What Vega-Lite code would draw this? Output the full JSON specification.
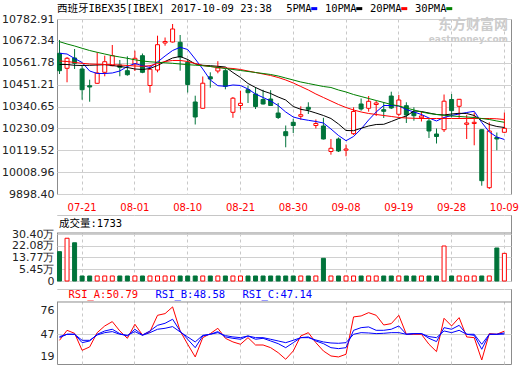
{
 "$schema": "https://vega.github.io/schema/vega-lite/v6.json",
 "background": "#ffffff",
 "padding": {"left": 0, "top": 2, "right": 0, "bottom": 0},
 "spacing": 1,
 "datasets": {"k": [
  {"d":"07-18","o":10609.6,"h":10676.8,"l":10504.9,"c":10521.6,"v":17.9,"ma5":10609.6,"ma10":10553.0,"ma20":10570.7,"ma30":10668.2,"ra":39.4,"rb":42.7,"rc":44.0},
  {"d":"07-19","o":10533.7,"h":10590.9,"l":10463.0,"c":10584.3,"v":27.4,"ma5":10606.0,"ma10":10553.0,"ma20":10568.1,"ma30":10656.6,"ra":51.8,"rb":46.9,"rc":46.9},
  {"d":"07-20","o":10585.8,"h":10631.3,"l":10530.2,"c":10559.0,"v":24.2,"ma5":10583.3,"ma10":10548.9,"ma20":10563.1,"ma30":10646.5,"ra":48.1,"rb":46.9,"rc":46.9},
  {"d":"07-21","o":10530.2,"h":10546.9,"l":10375.0,"c":10425.6,"v":0.67,"ma5":10563.1,"ma10":10547.9,"ma20":10559.0,"ma30":10634.8,"ra":27.0,"rb":36.5,"rc":39.4},
  {"d":"07-24","o":10445.8,"h":10476.1,"l":10364.9,"c":10439.2,"v":0.67,"ma5":10520.1,"ma10":10548.9,"ma20":10555.5,"ma30":10623.7,"ra":31.2,"rb":38.6,"rc":39.4},
  {"d":"07-25","o":10457.9,"h":10614.6,"l":10455.0,"c":10510.0,"v":0.67,"ma5":10507.5,"ma10":10550.4,"ma20":10554.0,"ma30":10614.6,"ra":48.9,"rb":46.9,"rc":46.0},
  {"d":"07-26","o":10513.5,"h":10597.4,"l":10493.3,"c":10567.1,"v":0.67,"ma5":10507.5,"ma10":10552.0,"ma20":10553.0,"ma30":10606.0,"ra":57.2,"rb":51.0,"rc":48.9},
  {"d":"07-27","o":10546.9,"h":10651.5,"l":10543.8,"c":10597.4,"v":0.67,"ma5":10510.0,"ma10":10547.9,"ma20":10552.0,"ma30":10597.4,"ra":62.6,"rb":53.1,"rc":50.2},
  {"d":"07-28","o":10550.4,"h":10575.7,"l":10493.3,"c":10538.8,"v":0.67,"ma5":10520.1,"ma10":10542.9,"ma20":10550.4,"ma30":10590.9,"ra":51.0,"rb":47.7,"rc":46.9},
  {"d":"07-31","o":10521.6,"h":10594.4,"l":10496.3,"c":10501.4,"v":0.67,"ma5":10542.9,"ma10":10537.8,"ma20":10547.9,"ma30":10584.3,"ra":41.9,"rb":44.8,"rc":45.6},
  {"d":"08-01","o":10555.5,"h":10622.7,"l":10520.1,"c":10584.3,"v":0.67,"ma5":10558.0,"ma10":10530.2,"ma20":10545.4,"ma30":10576.7,"ra":59.3,"rb":53.1,"rc":50.2},
  {"d":"08-02","o":10597.4,"h":10608.5,"l":10509.0,"c":10513.5,"v":0.67,"ma5":10546.9,"ma10":10527.7,"ma20":10543.9,"ma30":10570.7,"ra":46.0,"rb":46.0,"rc":45.6},
  {"d":"08-03","o":10446.8,"h":10546.9,"l":10410.4,"c":10528.7,"v":0.67,"ma5":10537.8,"ma10":10532.7,"ma20":10546.9,"ma30":10566.6,"ra":50.2,"rb":51.0,"rc":48.9},
  {"d":"08-04","o":10525.1,"h":10698.5,"l":10513.5,"c":10653.0,"v":0.67,"ma5":10565.6,"ma10":10547.9,"ma20":10558.0,"ma30":10564.1,"ra":70.4,"rb":58.0,"rc":53.1},
  {"d":"08-07","o":10661.6,"h":10689.4,"l":10648.0,"c":10669.2,"v":0.67,"ma5":10595.9,"ma10":10568.1,"ma20":10568.1,"ma30":10561.6,"ra":72.5,"rb":60.5,"rc":54.3},
  {"d":"08-08","o":10666.7,"h":10757.6,"l":10664.0,"c":10732.4,"v":0.67,"ma5":10623.7,"ma10":10585.8,"ma20":10573.2,"ma30":10559.0,"ra":80.8,"rb":65.5,"rc":56.4},
  {"d":"08-09","o":10665.1,"h":10702.0,"l":10521.6,"c":10590.9,"v":0.67,"ma5":10639.9,"ma10":10593.4,"ma20":10573.2,"ma30":10555.5,"ra":51.0,"rb":51.0,"rc":49.8},
  {"d":"08-10","o":10564.1,"h":10580.7,"l":10411.4,"c":10451.9,"v":0.67,"ma5":10628.8,"ma10":10578.2,"ma20":10568.1,"ma30":10552.0,"ra":34.5,"rb":40.7,"rc":43.6},
  {"d":"08-11","o":10363.4,"h":10395.3,"l":10249.7,"c":10287.6,"v":0.67,"ma5":10580.8,"ma10":10555.5,"ma20":10558.0,"ma30":10549.4,"ra":18.8,"rb":30.3,"rc":37.4},
  {"d":"08-14","o":10331.6,"h":10492.3,"l":10330.0,"c":10458.4,"v":0.67,"ma5":10530.2,"ma10":10548.9,"ma20":10547.9,"ma30":10546.9,"ra":42.7,"rb":44.8,"rc":45.6},
  {"d":"08-15","o":10490.8,"h":10513.5,"l":10435.7,"c":10479.7,"v":0.67,"ma5":10474.6,"ma10":10546.9,"ma20":10542.9,"ma30":10542.9,"ra":47.7,"rb":46.9,"rc":46.9},
  {"d":"08-16","o":10520.1,"h":10569.6,"l":10508.5,"c":10535.3,"v":0.67,"ma5":10445.8,"ma10":10543.9,"ma20":10538.8,"ma30":10537.8,"ra":54.3,"rb":50.2,"rc":48.9},
  {"d":"08-17","o":10521.6,"h":10530.2,"l":10427.6,"c":10442.8,"v":0.67,"ma5":10442.8,"ma10":10540.3,"ma20":10535.3,"ma30":10532.7,"ra":41.9,"rb":43.6,"rc":45.2},
  {"d":"08-18","o":10311.4,"h":10388.7,"l":10283.6,"c":10382.6,"v":0.67,"ma5":10449.4,"ma10":10512.5,"ma20":10532.7,"ma30":10527.7,"ra":37.4,"rb":41.9,"rc":43.6},
  {"d":"08-21","o":10345.7,"h":10420.5,"l":10324.5,"c":10356.8,"v":0.67,"ma5":10446.8,"ma10":10487.3,"ma20":10527.7,"ma30":10522.6,"ra":34.5,"rb":40.7,"rc":42.7},
  {"d":"08-22","o":10425.6,"h":10445.8,"l":10358.4,"c":10410.4,"v":0.67,"ma5":10429.1,"ma10":10456.9,"ma20":10520.1,"ma30":10517.6,"ra":42.7,"rb":44.8,"rc":44.8},
  {"d":"08-23","o":10403.9,"h":10439.2,"l":10328.0,"c":10340.7,"v":0.67,"ma5":10403.9,"ma10":10436.7,"ma20":10512.5,"ma30":10512.5,"ra":33.6,"rb":40.7,"rc":42.7},
  {"d":"08-24","o":10376.1,"h":10425.1,"l":10350.8,"c":10353.3,"v":0.67,"ma5":10386.2,"ma10":10419.0,"ma20":10504.9,"ma30":10507.5,"ra":33.6,"rb":41.9,"rc":42.7},
  {"d":"08-25","o":10378.6,"h":10423.1,"l":10344.7,"c":10345.7,"v":0.67,"ma5":10368.5,"ma10":10406.4,"ma20":10497.4,"ma30":10502.4,"ra":30.3,"rb":38.6,"rc":40.7},
  {"d":"08-28","o":10307.8,"h":10358.4,"l":10277.5,"c":10285.1,"v":0.67,"ma5":10345.7,"ma10":10388.7,"ma20":10487.3,"ma30":10494.8,"ra":24.1,"rb":35.3,"rc":38.6},
  {"d":"08-29","o":10213.3,"h":10244.6,"l":10134.5,"c":10193.1,"v":0.67,"ma5":10312.9,"ma10":10373.5,"ma20":10474.6,"ma30":10484.7,"ra":15.9,"rb":30.3,"rc":36.5},
  {"d":"08-30","o":10260.8,"h":10279.0,"l":10206.7,"c":10244.6,"v":0.67,"ma5":10287.6,"ma10":10340.7,"ma20":10459.5,"ma30":10474.6,"ra":26.2,"rb":36.5,"rc":39.4},
  {"d":"08-31","o":10291.1,"h":10341.7,"l":10274.0,"c":10299.2,"v":0.67,"ma5":10277.5,"ma10":10326.5,"ma20":10441.8,"ma30":10464.5,"ra":44.8,"rb":42.7,"rc":42.7},
  {"d":"09-01","o":10336.6,"h":10361.9,"l":10302.8,"c":10326.5,"v":0.67,"ma5":10270.9,"ma10":10319.5,"ma20":10424.1,"ma30":10456.9,"ra":48.9,"rb":43.6,"rc":42.7},
  {"d":"09-04","o":10244.6,"h":10275.0,"l":10229.5,"c":10254.8,"v":0.67,"ma5":10264.9,"ma10":10307.8,"ma20":10403.9,"ma30":10449.4,"ra":36.5,"rb":38.6,"rc":39.8},
  {"d":"09-05","o":10242.1,"h":10283.6,"l":10174.0,"c":10176.4,"v":13.2,"ma5":10257.3,"ma10":10295.2,"ma20":10386.2,"ma30":10441.8,"ra":26.2,"rb":35.3,"rc":37.4},
  {"d":"09-06","o":10113.2,"h":10176.4,"l":10097.1,"c":10129.4,"v":0.67,"ma5":10227.0,"ma10":10280.0,"ma20":10368.5,"ma30":10436.7,"ra":20.0,"rb":30.3,"rc":36.1},
  {"d":"09-07","o":10176.4,"h":10184.0,"l":10110.7,"c":10115.8,"v":0.67,"ma5":10194.1,"ma10":10252.2,"ma20":10350.8,"ma30":10424.1,"ra":18.8,"rb":29.1,"rc":35.7},
  {"d":"09-08","o":10119.8,"h":10148.6,"l":10089.0,"c":10125.9,"v":0.67,"ma5":10167.8,"ma10":10219.4,"ma20":10335.6,"ma30":10414.0,"ra":22.1,"rb":30.3,"rc":36.5},
  {"d":"09-11","o":10203.2,"h":10336.6,"l":10196.6,"c":10315.4,"v":0.67,"ma5":10189.1,"ma10":10218.4,"ma20":10323.0,"ma30":10401.3,"ra":68.4,"rb":51.8,"rc":46.9},
  {"d":"09-12","o":10353.3,"h":10381.1,"l":10319.5,"c":10328.0,"v":0.67,"ma5":10227.0,"ma10":10230.5,"ma20":10312.9,"ma30":10391.2,"ra":69.6,"rb":55.1,"rc":48.9},
  {"d":"09-13","o":10331.6,"h":10393.7,"l":10314.4,"c":10366.9,"v":0.67,"ma5":10272.5,"ma10":10242.1,"ma20":10305.3,"ma30":10381.1,"ra":73.7,"rb":56.0,"rc":48.5},
  {"d":"09-14","o":10350.8,"h":10368.5,"l":10292.7,"c":10358.4,"v":0.67,"ma5":10312.9,"ma10":10249.7,"ma20":10300.3,"ma30":10371.0,"ra":70.4,"rb":51.8,"rc":47.7},
  {"d":"09-15","o":10324.5,"h":10363.4,"l":10282.6,"c":10316.4,"v":0.67,"ma5":10345.7,"ma10":10250.7,"ma20":10295.2,"ma30":10360.9,"ra":58.4,"rb":51.8,"rc":48.1},
  {"d":"09-18","o":10393.7,"h":10415.5,"l":10328.0,"c":10333.1,"v":0.67,"ma5":10345.7,"ma10":10264.9,"ma20":10290.2,"ma30":10350.8,"ra":60.1,"rb":53.1,"rc":48.9},
  {"d":"09-19","o":10301.3,"h":10398.8,"l":10292.7,"c":10373.5,"v":0.67,"ma5":10343.2,"ma10":10280.0,"ma20":10285.1,"ma30":10343.2,"ra":70.4,"rb":57.2,"rc":48.9},
  {"d":"09-20","o":10344.7,"h":10361.9,"l":10257.3,"c":10297.7,"v":0.67,"ma5":10325.5,"ma10":10292.7,"ma20":10282.6,"ma30":10333.1,"ra":46.9,"rb":46.9,"rc":46.9},
  {"d":"09-21","o":10311.4,"h":10336.6,"l":10268.9,"c":10294.2,"v":0.67,"ma5":10312.9,"ma10":10318.0,"ma20":10281.1,"ma30":10323.0,"ra":46.9,"rb":47.7,"rc":47.7},
  {"d":"09-22","o":10283.6,"h":10313.9,"l":10264.9,"c":10292.7,"v":0.67,"ma5":10300.3,"ma10":10315.4,"ma20":10280.0,"ma30":10312.9,"ra":46.9,"rb":47.7,"rc":47.7},
  {"d":"09-25","o":10267.4,"h":10277.5,"l":10181.5,"c":10216.9,"v":0.67,"ma5":10282.6,"ma10":10307.8,"ma20":10280.0,"ma30":10305.3,"ra":34.5,"rb":41.9,"rc":44.0},
  {"d":"09-26","o":10201.7,"h":10229.5,"l":10153.7,"c":10189.1,"v":0.67,"ma5":10267.4,"ma10":10300.3,"ma20":10280.0,"ma30":10300.3,"ra":25.4,"rb":37.8,"rc":42.7},
  {"d":"09-27","o":10223.4,"h":10401.3,"l":10211.8,"c":10367.5,"v":21.9,"ma5":10285.1,"ma10":10297.7,"ma20":10280.0,"ma30":10296.2,"ra":66.7,"rb":55.1,"rc":51.0},
  {"d":"09-28","o":10376.1,"h":10403.8,"l":10286.1,"c":10319.5,"v":0.67,"ma5":10295.2,"ma10":10302.8,"ma20":10280.0,"ma30":10292.7,"ra":57.2,"rb":53.1,"rc":48.9},
  {"d":"09-29","o":10341.7,"h":10378.6,"l":10277.5,"c":10377.1,"v":0.67,"ma5":10302.8,"ma10":10306.3,"ma20":10280.0,"ma30":10290.2,"ra":67.5,"rb":58.0,"rc":51.8},
  {"d":"10-02","o":10250.7,"h":10298.7,"l":10176.4,"c":10257.3,"v":0.67,"ma5":10310.4,"ma10":10305.3,"ma20":10280.0,"ma30":10287.6,"ra":43.6,"rb":46.9,"rc":46.9},
  {"d":"10-03","o":10254.8,"h":10310.4,"l":10144.6,"c":10260.8,"v":0.67,"ma5":10316.4,"ma10":10295.2,"ma20":10280.0,"ma30":10285.1,"ra":42.7,"rb":45.6,"rc":46.9},
  {"d":"10-04","o":10223.4,"h":10225.0,"l":9940.4,"c":9965.7,"v":0.67,"ma5":10259.8,"ma10":10268.9,"ma20":10280.0,"ma30":10280.0,"ra":15.0,"rb":28.3,"rc":34.5},
  {"d":"10-05","o":9930.3,"h":10260.8,"l":9923.7,"c":10216.9,"v":0.67,"ma5":10211.8,"ma10":10249.7,"ma20":10280.0,"ma30":10275.0,"ra":47.7,"rb":46.9,"rc":46.9},
  {"d":"10-06","o":10184.0,"h":10209.3,"l":10119.3,"c":10176.4,"v":20.5,"ma5":10186.5,"ma10":10239.6,"ma20":10278.5,"ma30":10267.4,"ra":46.9,"rb":46.9,"rc":46.9},
  {"d":"10-09","o":10210.3,"h":10310.4,"l":10208.0,"c":10230.5,"v":16.7,"ma5":10173.9,"ma10":10234.6,"ma20":10275.0,"ma30":10260.8,"ra":50.79,"rb":48.58,"rc":47.14}
 ]},
 "vconcat": [
  {
   "width": 454, "height": 175,
   "data": {"name": "k"},
   "title": {"text": "东方财富网", "subtitle": "eastmoney.com", "anchor": "end", "frame": "group", "orient": "top", "offset": -41, "dx": -3, "font": "Noto Sans CJK SC", "fontSize": 14, "fontWeight": "bold", "color": "#cccccc", "subtitleFont": "DejaVu Sans", "subtitleFontSize": 9, "subtitleFontWeight": "bold", "subtitleColor": "#cccccc", "subtitlePadding": 3},
   "encoding": {
    "x": {"field": "d", "type": "ordinal",
     "scale": {"type": "band", "paddingInner": 0.337, "paddingOuter": 0.2735, "align": 0},
     "axis": {"values": ["07-21","08-01","08-10","08-21","08-30","09-08","09-19","09-28","10-09"], "labelColor": "#ff0000", "labelFontSize": 10, "labelPadding": 8, "labelAngle": 0, "grid": true, "gridDash": [3,3], "gridColor": "#c8c8c8", "bandPosition": 0.5, "title": null}}
   },
   "layer": [
    {"mark": {"type": "rule", "strokeWidth": 1},
     "encoding": {
      "y": {"field": "l", "type": "quantitative", "scale": {"domain": [9898.4, 10782.91], "zero": false, "nice": false},
       "axis": {"values": [9898.40, 10008.96, 10119.52, 10230.09, 10340.65, 10451.21, 10561.78, 10672.34, 10782.91], "format": ".2f", "grid": true, "labelOverlap": false, "labelPadding": 3, "minExtent": 56, "maxExtent": 56, "title": null}},
      "y2": {"field": "h"},
      "color": {"condition": {"test": "datum.c >= datum.o", "value": "#ff0000"}, "value": "#00733a"}
     }},
    {"mark": {"type": "bar", "width": {"band": 0.8}, "strokeWidth": 1},
     "encoding": {
      "y": {"field": "o", "type": "quantitative",
       "axis": {"values": [9898.40, 10008.96, 10119.52, 10230.09, 10340.65, 10451.21, 10561.78, 10672.34, 10782.91], "format": ".2f", "grid": true, "labelOverlap": false, "labelPadding": 3, "minExtent": 56, "maxExtent": 56, "title": null}},
      "y2": {"field": "c"},
      "fill": {"condition": {"test": "datum.c >= datum.o", "value": "#ffffff"}, "value": "#00733a"},
      "stroke": {"condition": {"test": "datum.c >= datum.o", "value": "#ff0000"}, "value": "#00733a"}
     }},
    {"transform": [{"fold": ["ma5","ma10","ma20","ma30"], "as": ["key","ma"]}],
     "mark": {"type": "line", "strokeWidth": 1},
     "encoding": {
      "y": {"field": "ma", "type": "quantitative",
       "axis": {"values": [9898.40, 10008.96, 10119.52, 10230.09, 10340.65, 10451.21, 10561.78, 10672.34, 10782.91], "format": ".2f", "grid": true, "labelOverlap": false, "labelPadding": 3, "minExtent": 56, "maxExtent": 56, "title": null}},
      "color": {"field": "key", "type": "nominal",
       "scale": {"domain": ["ma5","ma10","ma20","ma30"], "range": ["#0000ff","#000000","#ff0000","#008000"]},
       "legend": {"orient": "top", "direction": "horizontal", "title": "西班牙IBEX35[IBEX] 2017-10-09 23:38", "titleOrient": "left", "titleFont": "DejaVu Sans Mono, Noto Sans CJK SC", "titleFontSize": 10.5, "titleFontWeight": "normal", "titleColor": "#000000", "titlePadding": 37, "titleLimit": 400,
        "labelExpr": "{'ma5':'5PMA','ma10':'10PMA','ma20':'20PMA','ma30':'30PMA'}[datum.value]",
        "labelFont": "DejaVu Sans Mono, Noto Sans CJK SC", "labelFontSize": 10.5, "labelColor": "#000000", "labelAlign": "right", "labelOffset": -8,
        "symbolType": "stroke", "symbolSize": 36, "symbolStrokeWidth": 3, "columnPadding": 0, "offset": 4, "padding": 0}}
     }}
   ]
  },
  {
   "width": 454, "height": 66,
   "data": {"name": "k"},
   "title": {"text": "成交量:1733", "anchor": "start", "frame": "group", "orient": "top", "offset": -14, "dx": 2, "font": "DejaVu Sans Mono, Noto Sans CJK SC", "fontSize": 10.5, "fontWeight": "normal", "color": "#000000"},
   "layer": [
    {"mark": {"type": "bar", "width": {"band": 0.8}, "strokeWidth": 1},
     "encoding": {
      "x": {"field": "d", "type": "ordinal",
       "scale": {"type": "band", "paddingInner": 0.337, "paddingOuter": 0.2735, "align": 0},
       "axis": {"values": ["07-21","08-01","08-10","08-21","08-30","09-08","09-19","09-28","10-09"], "labels": false, "grid": true, "gridDash": [3,3], "gridColor": "#c8c8c8", "bandPosition": 0.5, "minExtent": 5, "maxExtent": 5, "title": null}},
      "y": {"field": "v", "type": "quantitative", "scale": {"domain": [-2.87, 43.85], "zero": false, "nice": false},
       "axis": {"values": [-2.87, 5.45, 13.77, 22.08, 30.40], "labelExpr": "datum.value < 0 ? '0' : format(datum.value, '.2f') + '万'", "grid": true, "labelOverlap": false, "labelPadding": 3, "minExtent": 56, "maxExtent": 56, "title": null}},
      "y2": {"datum": -2.87},
      "fill": {"condition": {"test": "datum.c >= datum.o", "value": "#ffffff"}, "value": "#00733a"},
      "stroke": {"condition": {"test": "datum.c >= datum.o", "value": "#ff0000"}, "value": "#00733a"}
     }},
    {"data": {"values": [{}]}, "mark": {"type": "rect", "fill": "#ffffff"},
     "encoding": {"y": {"datum": 31.11, "axis": {"values": [-2.87, 5.45, 13.77, 22.08, 30.40], "labelExpr": "datum.value < 0 ? '0' : format(datum.value, '.2f') + '万'", "grid": true, "labelOverlap": false, "labelPadding": 3, "minExtent": 56, "maxExtent": 56, "title": null}}, "y2": {"datum": 43.5}}},
    {"data": {"values": [{}]}, "mark": {"type": "rule", "color": "#8c8c8c"},
     "encoding": {"y": {"datum": 31.11, "axis": {"values": [-2.87, 5.45, 13.77, 22.08, 30.40], "labelExpr": "datum.value < 0 ? '0' : format(datum.value, '.2f') + '万'", "grid": true, "labelOverlap": false, "labelPadding": 3, "minExtent": 56, "maxExtent": 56, "title": null}}}}
   ]
  },
  {
   "width": 454, "height": 75,
   "data": {"name": "k"},
   "layer": [
    {"transform": [{"fold": ["ra","rb","rc"], "as": ["rk","rv"]}],
     "mark": {"type": "line", "strokeWidth": 1},
     "encoding": {
      "x": {"field": "d", "type": "ordinal",
       "scale": {"type": "band", "paddingInner": 0.337, "paddingOuter": 0.2735, "align": 0},
       "axis": {"values": ["07-21","08-01","08-10","08-21","08-30","09-08","09-19","09-28","10-09"], "labels": false, "grid": true, "gridDash": [3,3], "gridColor": "#c8c8c8", "bandPosition": 0.5, "title": null}},
      "y": {"field": "rv", "type": "quantitative", "scale": {"domain": [10.05, 103], "zero": false, "nice": false},
       "axis": {"values": [19, 47, 76], "grid": true, "gridOpacity": {"condition": {"test": "datum.value === 47", "value": 1}, "value": 0}, "labelOverlap": false, "labelPadding": 3, "minExtent": 56, "maxExtent": 56, "title": null}},
      "color": {"field": "rk", "type": "nominal",
       "scale": {"domain": ["ra","rb","rc"], "range": ["#ff0000","#0000ff","#0000ff"]},
       "legend": {"orient": "top-left", "direction": "horizontal", "title": null, "offset": 1, "padding": 0,
        "labelExpr": "{'ra':'RSI_A:50.79','rb':'RSI_B:48.58','rc':'RSI_C:47.14'}[datum.value]",
        "labelFont": "DejaVu Sans Mono, Noto Sans CJK SC", "labelFontSize": 10.5, "labelOffset": 0,
        "symbolSize": 0, "symbolStrokeWidth": 0, "symbolOpacity": 0, "columnPadding": 6,
        "encode": {"labels": {"update": {"fill": {"signal": "datum.value === 'ra' ? '#ff0000' : '#0000ff'"}}}}}}
     }},
    {"data": {"values": [{}]}, "mark": {"type": "rect", "fill": "#ffffff"},
     "encoding": {"y": {"datum": 86.9, "axis": {"values": [19, 47, 76], "grid": true, "gridOpacity": {"condition": {"test": "datum.value === 47", "value": 1}, "value": 0}, "labelOverlap": false, "labelPadding": 3, "minExtent": 56, "maxExtent": 56, "title": null}}, "y2": {"datum": 102.4}}},
    {"data": {"values": [{}]}, "mark": {"type": "rule", "color": "#8c8c8c"},
     "encoding": {"y": {"datum": 86.9, "axis": {"values": [19, 47, 76], "grid": true, "gridOpacity": {"condition": {"test": "datum.value === 47", "value": 1}, "value": 0}, "labelOverlap": false, "labelPadding": 3, "minExtent": 56, "maxExtent": 56, "title": null}}}}
   ]
  }
 ],
 "resolve": {"scale": {"color": "independent", "y": "independent"}, "legend": {"color": "independent"}},
 "config": {
  "view": {"stroke": "#8c8c8c", "strokeWidth": 1},
  "axis": {"ticks": false, "domain": false, "labelOverlap": false, "labelFont": "DejaVu Sans", "labelFontSize": 11, "labelColor": "#222222", "gridColor": "#d0d0d0"},
  "axisY": {"labelOverlap": false},
  "legend": {"padding": 0}
 }
}
